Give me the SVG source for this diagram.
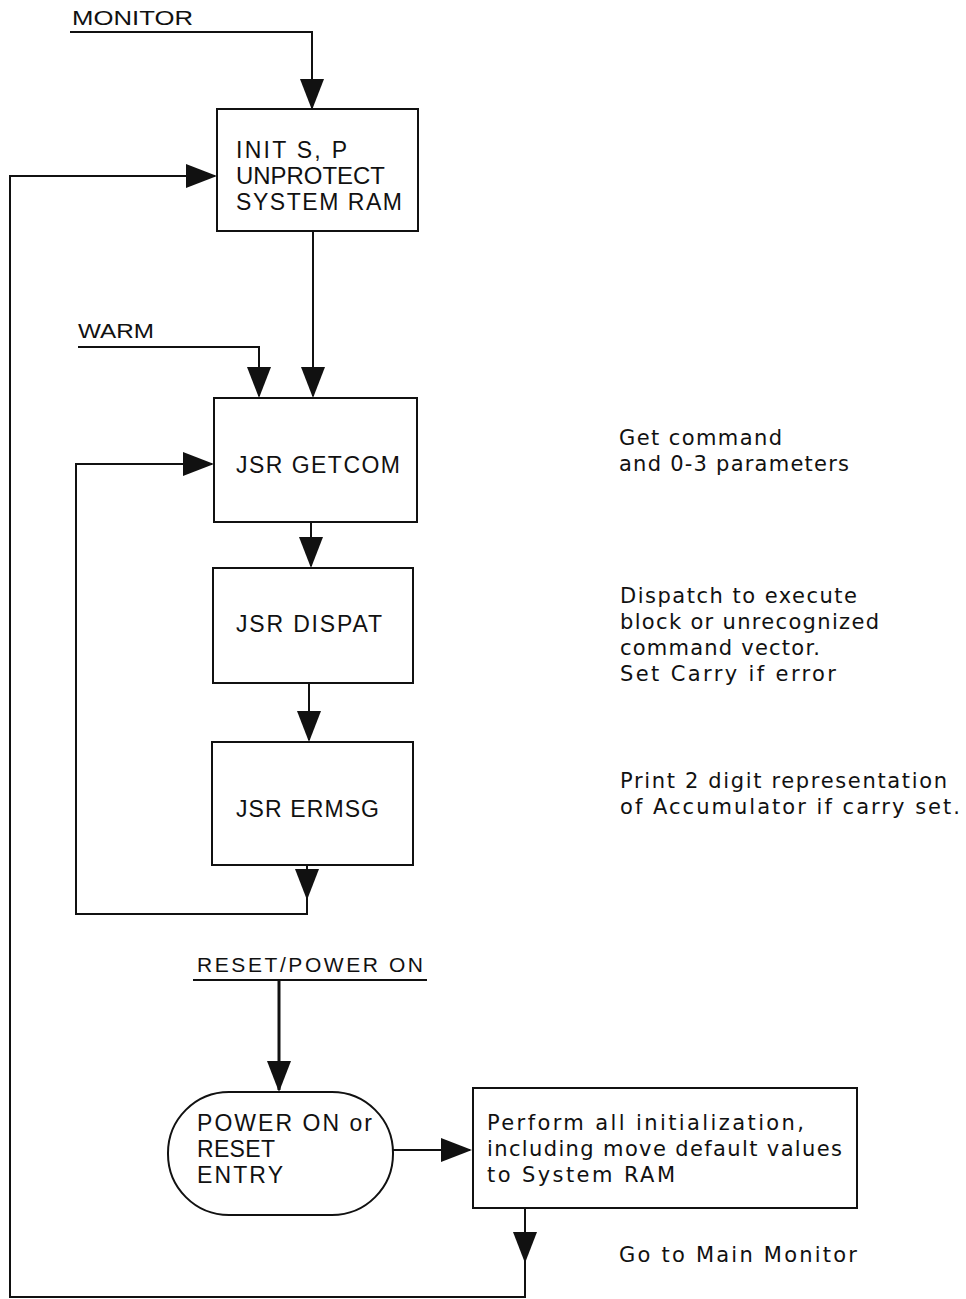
<svg xmlns="http://www.w3.org/2000/svg" xmlns:xlink="http://www.w3.org/1999/xlink" width="966" height="1299" viewBox="0 0 966 1299">
<style>
  .bg { fill: #ffffff; }
  .box { fill: #ffffff; stroke: #111; stroke-width: 2; }
  .ln { fill: none; stroke: #111; stroke-width: 2; }
  .thick { fill: none; stroke: #111; stroke-width: 3; }
  .bt { font-family: "Liberation Sans", "DejaVu Sans", sans-serif; font-size: 23px; fill: #111; }
  .lb { font-family: "Liberation Sans", "DejaVu Sans", sans-serif; font-size: 21px; fill: #111; }
  .ds { font-family: "DejaVu Sans", "Liberation Sans", sans-serif; font-size: 21px; fill: #111; }
  .ah { fill: #111; }
</style>
<defs>
  <path id="ah" class="ah" d="M0,0 L-12,-31 L12,-31 Z"/>
</defs>
<rect class="bg" x="0" y="0" width="966" height="1299"/>

<g id="connectors">
  <path class="ln" d="M70,32 H312 V108"/>
  <use xlink:href="#ah" href="#ah" transform="translate(312,110)"/>

  <path class="ln" d="M313,232 V396"/>
  <use xlink:href="#ah" href="#ah" transform="translate(313,398)"/>

  <path class="ln" d="M78,347 H259 V396"/>
  <use xlink:href="#ah" href="#ah" transform="translate(259,398)"/>

  <path class="ln" d="M311,522 V566"/>
  <use xlink:href="#ah" href="#ah" transform="translate(311,568)"/>

  <path class="ln" d="M309,683 V740"/>
  <use xlink:href="#ah" href="#ah" transform="translate(309,742)"/>

  <path class="ln" d="M307,865 V914 H76 V464 H212"/>
  <use xlink:href="#ah" href="#ah" transform="translate(307,900)"/>
  <use xlink:href="#ah" href="#ah" transform="translate(214,464) rotate(-90)"/>

  <path class="thick" d="M279,980 V1090"/>
  <use xlink:href="#ah" href="#ah" transform="translate(279,1092)"/>

  <path class="ln" d="M393,1150 H470"/>
  <use xlink:href="#ah" href="#ah" transform="translate(472,1150) rotate(-90)"/>

  <path class="ln" d="M525,1208 V1297 H10 V176 H215"/>
  <use xlink:href="#ah" href="#ah" transform="translate(525,1263)"/>
  <use xlink:href="#ah" href="#ah" transform="translate(217,176) rotate(-90)"/>
</g>

<g id="label-monitor">
  <text class="lb" x="72" y="25" textLength="121" lengthAdjust="spacingAndGlyphs">MONITOR</text>
</g>
<g id="label-warm">
  <text class="lb" x="78" y="338" textLength="76" lengthAdjust="spacingAndGlyphs">WARM</text>
</g>
<g id="label-reset">
  <text class="lb" x="197" y="972" textLength="226" lengthAdjust="spacing">RESET/POWER ON</text>
  <path class="ln" d="M193,980 H427"/>
</g>

<g id="node-init">
  <rect class="box" x="217" y="109" width="201" height="122"/>
  <text class="bt" x="236" y="158" textLength="111" lengthAdjust="spacing">INIT S, P</text>
  <text class="bt" x="236" y="184" textLength="149" lengthAdjust="spacingAndGlyphs">UNPROTECT</text>
  <text class="bt" x="236" y="210" textLength="166" lengthAdjust="spacing">SYSTEM RAM</text>
</g>

<g id="node-getcom">
  <rect class="box" x="214" y="398" width="203" height="124"/>
  <text class="bt" x="236" y="473" textLength="164" lengthAdjust="spacing">JSR GETCOM</text>
</g>

<g id="node-dispat">
  <rect class="box" x="213" y="568" width="200" height="115"/>
  <text class="bt" x="236" y="632" textLength="146" lengthAdjust="spacing">JSR DISPAT</text>
</g>

<g id="node-ermsg">
  <rect class="box" x="212" y="742" width="201" height="123"/>
  <text class="bt" x="236" y="817" textLength="143" lengthAdjust="spacing">JSR ERMSG</text>
</g>

<g id="node-entry">
  <rect class="box" x="168" y="1092" width="225" height="123" rx="61" ry="61"/>
  <text class="bt" x="197" y="1131" textLength="175" lengthAdjust="spacing">POWER ON or</text>
  <text class="bt" x="197" y="1157" textLength="78" lengthAdjust="spacing">RESET</text>
  <text class="bt" x="197" y="1183" textLength="86" lengthAdjust="spacing">ENTRY</text>
</g>

<g id="node-perform">
  <rect class="box" x="473" y="1088" width="384" height="120"/>
  <text class="ds" x="487" y="1130" textLength="317" lengthAdjust="spacing">Perform all initialization,</text>
  <text class="ds" x="487" y="1156" textLength="355" lengthAdjust="spacing">including move default values</text>
  <text class="ds" x="487" y="1182" textLength="188" lengthAdjust="spacing">to System RAM</text>
</g>

<g id="notes">
  <text class="ds" x="619" y="445" textLength="163" lengthAdjust="spacing">Get command</text>
  <text class="ds" x="619" y="471" textLength="230" lengthAdjust="spacing">and 0-3 parameters</text>
  <text class="ds" x="620" y="603" textLength="237" lengthAdjust="spacing">Dispatch to execute</text>
  <text class="ds" x="620" y="629" textLength="259" lengthAdjust="spacing">block or unrecognized</text>
  <text class="ds" x="620" y="655" textLength="200" lengthAdjust="spacing">command vector.</text>
  <text class="ds" x="620" y="681" textLength="216" lengthAdjust="spacing">Set Carry if error</text>
  <text class="ds" x="620" y="788" textLength="327" lengthAdjust="spacing">Print 2 digit representation</text>
  <text class="ds" x="620" y="814" textLength="340" lengthAdjust="spacing">of Accumulator if carry set.</text>
  <text class="ds" x="619" y="1262" textLength="238" lengthAdjust="spacing">Go to Main Monitor</text>
</g>
</svg>
